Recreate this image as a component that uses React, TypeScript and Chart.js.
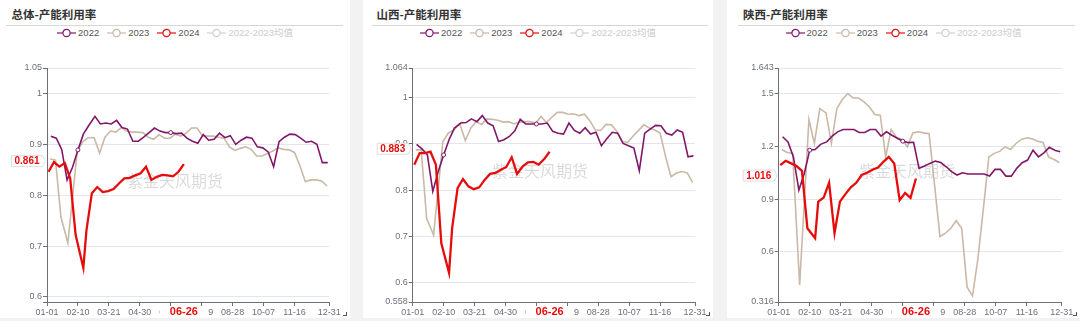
import React, { useEffect, useRef } from "react";
import { Chart, registerables } from "chart.js";
Chart.register(...registerables);

// ---------- data ----------
const dates2022 = ["01-06","01-13","01-20","01-27","02-03","02-10","02-17","02-24","03-03","03-10","03-17","03-24","03-31","04-07","04-14","04-21","04-28","05-05","05-12","05-19","05-26","06-02","06-09","06-16","06-23","06-30","07-07","07-14","07-21","07-28","08-04","08-11","08-18","08-25","09-01","09-08","09-15","09-22","09-29","10-06","10-13","10-20","10-27","11-03","11-10","11-17","11-24","12-01","12-08","12-15","12-22","12-29"];
const dates2023 = ["01-05","01-12","01-19","01-28","02-09","02-16","02-23","03-02","03-09","03-16","03-23","03-30","04-06","04-13","04-20","04-27","05-04","05-11","05-18","05-25","06-01","06-08","06-15","06-22","06-29","07-06","07-13","07-20","07-27","08-03","08-10","08-17","08-24","08-31","09-07","09-14","09-21","09-28","10-05","10-12","10-19","10-26","11-02","11-09","11-16","11-23","11-30","12-07","12-14","12-21","12-28"];
const dates2024 = ["01-03","01-10","01-17","01-24","01-31","02-07","02-17","02-21","02-28","03-06","03-13","03-20","03-27","04-03","04-10","04-17","04-24","05-01","05-08","05-15","05-22","05-29","06-05","06-12","06-19","06-26"];

const xTickLabels = ["01-01","02-10","03-21","04-30","06-09","07-19","08-28","10-07","11-16","12-31"];

const total2022 = [0.916,0.912,0.890,0.830,0.855,0.889,0.920,0.937,0.955,0.940,0.942,0.940,0.947,0.933,0.930,0.906,0.906,0.914,0.923,0.932,0.926,0.923,0.923,0.921,0.922,0.912,0.906,0.902,0.919,0.908,0.910,0.922,0.913,0.917,0.900,0.908,0.914,0.912,0.895,0.893,0.885,0.856,0.905,0.914,0.920,0.919,0.912,0.904,0.906,0.900,0.864,0.864];
const total2023 = [0.871,0.869,0.757,0.706,0.885,0.905,0.913,0.913,0.883,0.914,0.926,0.924,0.933,0.926,0.924,0.924,0.923,0.914,0.910,0.919,0.912,0.912,0.920,0.916,0.922,0.932,0.932,0.917,0.916,0.916,0.914,0.912,0.895,0.888,0.892,0.895,0.890,0.877,0.877,0.882,0.887,0.893,0.890,0.889,0.884,0.858,0.827,0.830,0.830,0.828,0.818];
const total2024 = [0.846,0.865,0.856,0.863,0.833,0.722,0.657,0.731,0.804,0.816,0.806,0.808,0.812,0.823,0.833,0.834,0.839,0.843,0.856,0.830,0.836,0.840,0.839,0.837,0.846,0.861];

const shanxi2022 = [0.899,0.889,0.876,0.797,0.840,0.876,0.909,0.934,0.945,0.946,0.954,0.948,0.961,0.945,0.939,0.905,0.909,0.916,0.928,0.953,0.943,0.943,0.943,0.943,0.945,0.927,0.923,0.921,0.945,0.929,0.923,0.935,0.921,0.925,0.896,0.911,0.925,0.923,0.901,0.896,0.891,0.842,0.923,0.932,0.940,0.939,0.923,0.919,0.930,0.925,0.872,0.874];
const shanxi2023 = [0.887,0.887,0.739,0.703,0.905,0.923,0.930,0.943,0.907,0.934,0.948,0.942,0.954,0.953,0.951,0.947,0.948,0.943,0.947,0.948,0.948,0.945,0.959,0.946,0.958,0.968,0.968,0.964,0.965,0.961,0.964,0.950,0.930,0.929,0.942,0.941,0.927,0.905,0.903,0.917,0.929,0.941,0.934,0.930,0.923,0.872,0.829,0.837,0.840,0.837,0.816];
const shanxi2024 = [0.855,0.880,0.880,0.883,0.855,0.685,0.621,0.718,0.804,0.824,0.808,0.802,0.806,0.822,0.835,0.837,0.844,0.850,0.871,0.835,0.851,0.860,0.861,0.855,0.867,0.883];

const shaanxi2022 = [1.253,1.224,1.139,0.951,1.045,1.177,1.181,1.210,1.224,1.257,1.281,1.294,1.294,1.294,1.277,1.277,1.294,1.294,1.257,1.281,1.262,1.245,1.228,1.220,1.222,1.074,1.087,1.102,1.115,1.107,1.083,1.055,1.036,1.049,1.042,1.042,1.042,1.042,1.030,1.068,1.068,1.030,1.030,1.074,1.106,1.121,1.177,1.139,1.162,1.193,1.177,1.168];
const shaanxi2023 = [1.181,1.164,1.159,0.413,1.351,1.215,1.413,1.388,1.215,1.413,1.464,1.498,1.473,1.473,1.451,1.422,1.379,1.375,1.139,1.294,1.249,1.238,1.196,1.275,1.281,1.275,1.270,0.980,0.687,0.706,0.734,0.777,0.734,0.400,0.351,0.564,0.847,1.139,1.159,1.170,1.196,1.181,1.215,1.238,1.247,1.241,1.228,1.221,1.139,1.124,1.107];
const shaanxi2024 = [1.092,1.117,1.102,1.087,1.060,0.734,0.678,0.885,0.908,0.992,0.706,0.885,0.928,0.966,0.992,1.036,1.049,1.066,1.079,1.111,1.139,1.102,0.894,0.934,0.906,1.016];

const yTicksTotal = [0.59, 0.6, 0.7, 0.8, 0.9, 1, 1.05];
const yTicksShanxi = [0.558, 0.6, 0.7, 0.8, 0.9, 1, 1.064];
const yTicksShaanxi = [0.316, 0.6, 0.9, 1.2, 1.5, 1.643];

const markedDates2022 = ["02-10", "06-09"];
const legendLabels = ["2022", "2023", "2024", "2022-2023均值"];
const WATERMARK = "紫金天风期货";

// ---------- style ----------
const PURPLE = "#82176a";
const TAN = "#c9b9a6";
const RED = "#e60c0c";
const AVG = "#d0d0d0";
const AXIS = "#6E7079";
const GRID = "#E3E6EC";
const FONT = '"Liberation Sans", "Noto Sans CJK SC", sans-serif';
const CJK = '"Noto Sans CJK SC", sans-serif';
const CANVAS_TOP = 45;
const CANVAS_H = 273;
const PANEL_H = 318;

const LEAP_CUM = [0, 31, 60, 91, 121, 152, 182, 213, 244, 274, 305, 335];
function dayIndex(mmdd: string) {
  const [m, d] = mmdd.split("-").map(Number);
  return LEAP_CUM[m - 1] + d - 1;
}
function dayLabel(idx: number) {
  let m = 11;
  while (LEAP_CUM[m] > idx) m--;
  const d = idx - LEAP_CUM[m] + 1;
  return String(m + 1).padStart(2, "0") + "-" + String(d).padStart(2, "0");
}

type PanelCfg = {
  title: string; left: number; width: number; titleX: number; lineL: number; lineR: number;
  plotL: number; plotR: number; yTicks: number[]; hideMin: boolean;
  s2022: number[]; s2023: number[]; s2024: number[]; wmX: number; wmY: number;
};

const panels: PanelCfg[] = [
  { title: "总体-产能利用率", left: 0, width: 350, titleX: 11.5, lineL: 6, lineR: 343, plotL: 47, plotR: 329.3,
    yTicks: yTicksTotal, hideMin: true, s2022: total2022, s2023: total2023, s2024: total2024, wmX: 175, wmY: 180.5 },
  { title: "山西-产能利用率", left: 363, width: 350, titleX: 13.5, lineL: 8.5, lineR: 345, plotL: 49.7, plotR: 332,
    yTicks: yTicksShanxi, hideMin: false, s2022: shanxi2022, s2023: shanxi2023, s2024: shanxi2024, wmX: 177, wmY: 170.5 },
  { title: "陕西-产能利用率", left: 727, width: 353, titleX: 16, lineL: 11, lineR: 348, plotL: 51.7, plotR: 334.7,
    yTicks: yTicksShaanxi, hideMin: false, s2022: shaanxi2022, s2023: shaanxi2023, s2024: shaanxi2024, wmX: 180, wmY: 170.5 },
];

function makeOverlay(p: PanelCfg) {
  return {
    id: "overlay",
    beforeDatasetsDraw(chart: any) {
      const ctx = chart.ctx;
      ctx.save();
      ctx.font = "16px " + CJK;
      ctx.fillStyle = "rgba(0,0,0,0.15)";
      ctx.textAlign = "center";
      ctx.textBaseline = "middle";
      ctx.fillText(WATERMARK, p.wmX, p.wmY - CANVAS_TOP);
      ctx.restore();
    },
    afterDraw(chart: any) {
      const { ctx, chartArea, scales } = chart;
      const lastVal = p.s2024[p.s2024.length - 1];
      const lastDate = dates2024[dates2024.length - 1];
      ctx.save();
      // y-axis pointer label
      const yy = scales.y.getPixelForValue(lastVal) - 3;
      const tip = chartArea.left - 1.5;
      const R = tip - 3;
      const L = R - 31;
      const T = yy - 5.5;
      const B = yy + 5.5;
      ctx.beginPath();
      ctx.moveTo(L, T);
      ctx.lineTo(R, T);
      ctx.lineTo(tip, yy);
      ctx.lineTo(R, B);
      ctx.lineTo(L, B);
      ctx.closePath();
      ctx.fillStyle = "#fff";
      ctx.fill();
      ctx.strokeStyle = "#dedede";
      ctx.lineWidth = 1;
      ctx.stroke();
      ctx.fillStyle = RED;
      ctx.font = "bold 10px " + FONT;
      ctx.textAlign = "center";
      ctx.textBaseline = "middle";
      ctx.fillText(String(lastVal), (L + R) / 2, yy + 0.5);
      // x-axis pointer label
      const xx = scales.x.getPixelForValue(dayIndex(lastDate));
      ctx.fillStyle = "#fff";
      ctx.fillRect(xx - 24, chartArea.bottom + 5, 48, 12);
      ctx.fillStyle = RED;
      ctx.font = "bold 11px " + FONT;
      ctx.fillText(lastDate, xx, chartArea.bottom + 10);
      ctx.restore();
    },
  };
}

function buildConfig(p: PanelCfg): any {
  const yMin = p.yTicks[0];
  const yMax = p.yTicks[p.yTicks.length - 1];
  const tickFont = { family: FONT, size: 9 };
  return {
    type: "line",
    data: {
      datasets: [
        {
          label: "2024",
          data: dates2024.map((d, i) => ({ x: dayIndex(d), y: p.s2024[i] })),
          borderColor: RED, borderWidth: 2.3, pointRadius: 0, tension: 0, order: 0,
        },
        {
          label: "2022",
          data: dates2022.map((d, i) => ({ x: dayIndex(d), y: p.s2022[i] })),
          borderColor: PURPLE, borderWidth: 1.6, tension: 0, order: 1,
          pointRadius: (c: any) => (markedDates2022.includes(dates2022[c.dataIndex]) ? 2 : 0),
          pointBackgroundColor: "#fff", pointBorderColor: PURPLE, pointBorderWidth: 1,
        },
        {
          label: "2023",
          data: dates2023.map((d, i) => ({ x: dayIndex(d), y: p.s2023[i] })),
          borderColor: TAN, borderWidth: 1.6, pointRadius: 0, tension: 0, order: 2,
        },
      ],
    },
    options: {
      animation: false,
      responsive: false,
      maintainAspectRatio: false,
      events: [],
      layout: { padding: { left: 0, top: 23, right: p.width - p.plotR, bottom: 0 } },
      plugins: { legend: { display: false }, tooltip: { enabled: false }, title: { display: false } },
      scales: {
        x: {
          type: "linear",
          min: 0,
          max: 365,
          afterBuildTicks: (s: any) => { s.ticks = xTickLabels.map((d) => ({ value: dayIndex(d) })); },
          afterFit: (s: any) => { s.height = CANVAS_H - 257; },
          ticks: { autoSkip: false, maxRotation: 0, minRotation: 0, padding: 1, color: AXIS, font: tickFont,
            callback: (v: number) => dayLabel(v) },
          grid: { display: true, drawOnChartArea: false, drawTicks: true, tickLength: 4, tickColor: AXIS, color: AXIS },
          border: { display: true, color: AXIS, width: 1 },
        },
        y: {
          type: "linear",
          min: yMin,
          max: yMax,
          afterBuildTicks: (s: any) => { s.ticks = p.yTicks.map((v) => ({ value: v })); },
          afterFit: (s: any) => { s.width = p.plotL; },
          ticks: { autoSkip: false, padding: 1, color: AXIS, font: tickFont,
            callback: (v: number) => (p.hideMin && v === yMin ? "" : String(v)) },
          grid: {
            color: (c: any) => (c.tick && c.tick.value === yMin ? "rgba(0,0,0,0)" : GRID),
            tickColor: AXIS, tickLength: 4, lineWidth: 1,
          },
          border: { display: true, color: AXIS, width: 1 },
        },
      },
    },
    plugins: [makeOverlay(p)],
  };
}

const legendColors = [PURPLE, TAN, RED, AVG];

function LegendSymbol({ color }: { color: string }) {
  return (
    <svg width="19" height="10" style={{ display: "block", marginRight: 2 }}>
      <line x1="0" y1="5" x2="19" y2="5" stroke={color} strokeWidth="1.2" />
      <circle cx="9.5" cy="5" r="3.6" fill="#fff" stroke={color} strokeWidth="1.2" />
    </svg>
  );
}

function Panel({ p }: { p: PanelCfg }) {
  const ref = useRef<HTMLCanvasElement | null>(null);
  useEffect(() => {
    const chart = new Chart(ref.current as HTMLCanvasElement, buildConfig(p));
    return () => chart.destroy();
  }, []);
  return (
    <div style={{ position: "absolute", left: p.left, top: 0, width: p.width, height: PANEL_H, background: "#fff", overflow: "hidden" }}>
      <div style={{ position: "absolute", left: p.titleX, top: 7.5, fontFamily: CJK, fontWeight: 700, fontSize: 11.5, lineHeight: "13px", color: "#333", whiteSpace: "nowrap" }}>
        {p.title}
      </div>
      <div style={{ position: "absolute", left: p.lineL, top: 24.5, width: p.lineR - p.lineL, height: 1, background: "#d6d6d6" }} />
      <div style={{ position: "absolute", left: 0, top: 27, width: p.width, height: 12, display: "flex", justifyContent: "center", alignItems: "center" }}>
        {legendLabels.map((lab, i) => (
          <div key={lab} style={{ display: "flex", alignItems: "center", marginRight: i < legendLabels.length - 1 ? 8 : 0 }}>
            <LegendSymbol color={legendColors[i]} />
            <span style={{ fontFamily: FONT, fontSize: 9.5, lineHeight: "12px", color: i === 3 ? "#cccccc" : "#555", whiteSpace: "nowrap" }}>{lab}</span>
          </div>
        ))}
      </div>
      <canvas ref={ref} width={p.width} height={CANVAS_H} style={{ position: "absolute", left: 0, top: CANVAS_TOP, width: p.width, height: CANVAS_H, display: "block" }} />
      <div style={{ position: "absolute", left: p.width - 7, top: 312, width: 3, height: 3, borderRight: "1px solid #555", borderBottom: "1px solid #555" }} />
    </div>
  );
}

export default function App() {
  return (
    <div style={{ position: "absolute", left: 0, top: 0, width: 1080, height: 321, background: "#f2f2f2", overflow: "hidden" }}>
      {panels.map((p) => (
        <Panel key={p.title} p={p} />
      ))}
    </div>
  );
}
